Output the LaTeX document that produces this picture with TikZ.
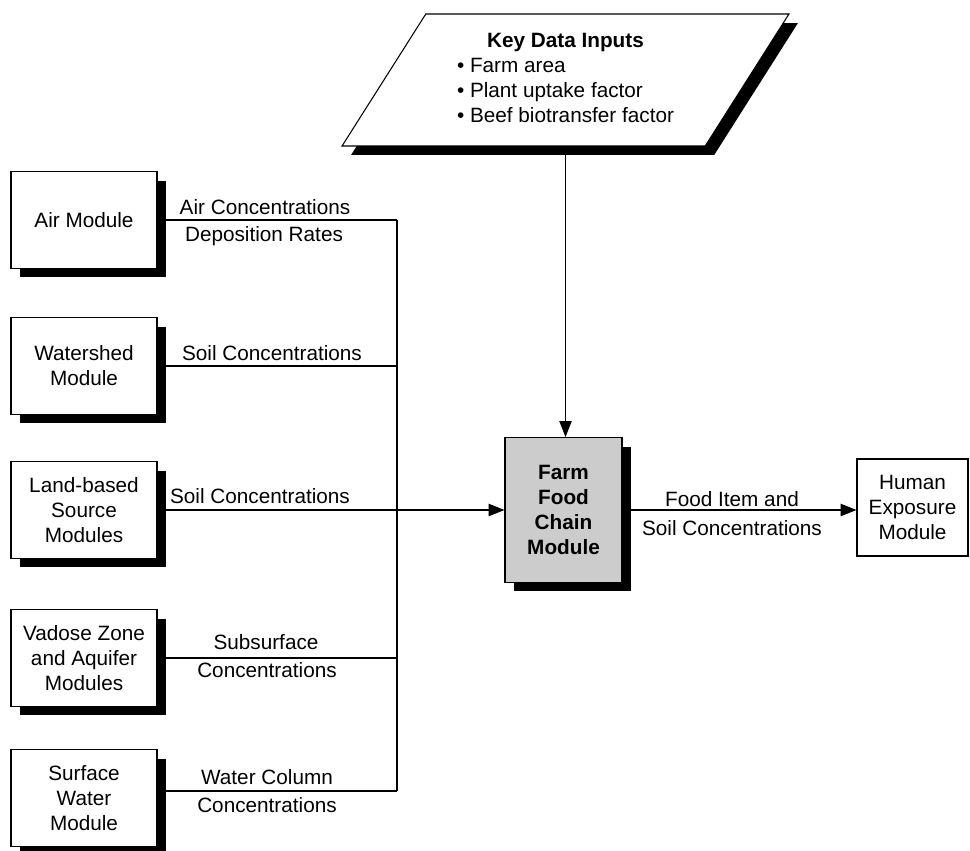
\documentclass[tikz,border=0pt]{standalone}
\usepackage{fontspec}
\setmainfont{Liberation Sans}
\usepackage{tikz}
\usetikzlibrary{shapes,arrows.meta,positioning,shadows}

\begin{document}
\begin{tikzpicture}[x=0.02cm, y=-0.02cm,
    font=\fontsize{11.8}{14.2}\selectfont,
    blackshadow/.style={drop shadow={shadow xshift=0.18cm, shadow yshift=-0.18cm, fill=black, opacity=1}},
    module/.style={draw, line width=0.6pt, fill=white, align=center, inner sep=2pt,
        minimum width=2.92cm, minimum height=1.94cm, blackshadow},
    wire/.style={line width=0.6pt},
    arr/.style={line width=0.6pt, -{Triangle[length=9pt,width=7pt]}},
    lbl/.style={inner sep=0pt, align=center}]
    \useasboundingbox (0,0) rectangle (970,851);

    % Key data inputs (parallelogram)
    \node[trapezium, trapezium left angle=50, trapezium right angle=130, trapezium stretches body,
        draw, line width=0.6pt, fill=white, minimum width=8.94cm, minimum height=2.64cm, inner sep=0pt,
        blackshadow] (inputs) at (565.5,80) {%
        \begin{tabular}{@{}l@{}}
        \multicolumn{1}{@{}c@{}}{\textbf{Key Data Inputs}}\\
        \textbullet\ Farm area\\
        \textbullet\ Plant uptake factor\\
        \textbullet\ Beef biotransfer factor
        \end{tabular}};

    % Source modules on the left
    \node[module] (air)   at (84,220) {Air Module};
    \node[module] (water) at (84,366) {Watershed\\Module};
    \node[module] (land)  at (84,510) {Land-based\\Source\\Modules};
    \node[module] (vad)   at (84,658) {Vadose Zone\\and Aquifer\\Modules};
    \node[module] (surf)  at (84,798) {Surface\\Water\\Module};

    % Central module and exposure module
    \node[module, fill=black!20, font=\fontsize{11.8}{14.2}\selectfont\bfseries,
        minimum width=2.34cm, minimum height=2.9cm] (farm) at (563.5,510) {Farm\\Food\\Chain\\Module};
    \node[draw, line width=0.6pt, align=center, minimum width=2.22cm, minimum height=1.94cm,
        inner sep=2pt] (human) at (912.5,507.5) {Human\\Exposure\\Module};

    % Collecting bus
    \coordinate (bus) at (397,219);
    \coordinate (bustop) at (air.east -| bus);
    \coordinate (busend) at ([yshift=0.14cm]surf.east -| bus);

    \draw[wire] (air.east) -- (bustop);
    \draw[wire] (water.east) -- (water.east -| bus);
    \draw[wire] (vad.east) -- (vad.east -| bus);
    \draw[wire] ([yshift=0.14cm]surf.east) -- (busend);
    \draw[wire] (bustop) -- (busend);
    \draw[arr] (land.east) -- (land.east -| farm.west);

    \draw[arr] (inputs.south) -- (inputs.south |- farm.north);
    \draw[arr] (farm.east) -- (human.west |- farm.east);

    % Labels
    \node[lbl] (lairc)  at (265,207) {Air Concentrations};
    \node[lbl] (ldep)   at (264,236) {Deposition Rates};
    \node[lbl] (lsoil1) at (272,353) {Soil Concentrations};
    \node[lbl] (lsoil2) at (260,496) {Soil Concentrations};
    \node[lbl] (lsub)   at (266,642) {Subsurface};
    \node[lbl] (lsubc)  at (267,670) {Concentrations};
    \node[lbl] (lwat)   at (267,777) {Water Column};
    \node[lbl] (lwatc)  at (267,805) {Concentrations};
    \node[lbl] (lfood)  at (732,499) {Food Item and};
    \node[lbl] (lfoodc) at (732,528) {Soil Concentrations};

\end{tikzpicture}
\end{document}
